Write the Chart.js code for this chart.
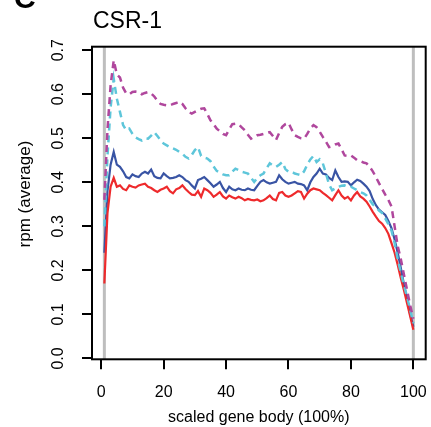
<!DOCTYPE html>
<html>
<head>
<meta charset="utf-8">
<script src="https://cdn.jsdelivr.net/npm/chart.js@4.4.1/dist/chart.umd.min.js"></script>
<style>
  html, body { margin: 0; padding: 0; background: #fff; }
  canvas { display: block; }
</style>
</head>
<body>
<canvas id="profile" width="431" height="427"></canvas>
<script>
// scaled gene body positions (1..100)
var bins = [];
for (var i = 1; i <= 100; i++) bins.push(i);

var redVals = [0.17,0.33,0.39,0.41,0.39,0.393,0.385,0.382,0.393,0.39,
  0.388,0.393,0.395,0.397,0.39,0.387,0.382,0.378,0.383,0.386,
  0.39,0.38,0.375,0.384,0.387,0.393,0.385,0.378,0.372,0.371,
  0.38,0.367,0.386,0.382,0.376,0.367,0.372,0.378,0.368,0.363,
  0.37,0.366,0.363,0.367,0.364,0.359,0.362,0.36,0.359,0.361,
  0.357,0.359,0.364,0.37,0.362,0.359,0.376,0.378,0.37,0.367,
  0.37,0.375,0.38,0.378,0.363,0.374,0.382,0.386,0.384,0.382,
  0.376,0.371,0.365,0.359,0.371,0.382,0.37,0.363,0.367,0.359,
  0.37,0.378,0.368,0.363,0.356,0.345,0.333,0.322,0.312,0.306,
  0.296,0.283,0.262,0.24,0.212,0.182,0.155,0.125,0.095,0.065];

var blueVals = [0.24,0.38,0.44,0.469,0.44,0.435,0.425,0.412,0.409,0.418,
  0.414,0.412,0.42,0.424,0.42,0.429,0.414,0.41,0.409,0.42,
  0.414,0.409,0.41,0.412,0.416,0.412,0.405,0.401,0.393,0.386,
  0.405,0.408,0.412,0.405,0.398,0.39,0.395,0.401,0.387,0.378,
  0.39,0.384,0.382,0.386,0.383,0.382,0.386,0.383,0.382,0.392,
  0.401,0.405,0.4,0.397,0.399,0.401,0.416,0.407,0.401,0.397,
  0.399,0.401,0.397,0.396,0.393,0.382,0.4,0.412,0.42,0.431,
  0.42,0.418,0.41,0.405,0.427,0.412,0.401,0.402,0.401,0.393,
  0.4,0.406,0.403,0.397,0.39,0.38,0.362,0.348,0.338,0.332,
  0.326,0.312,0.296,0.27,0.24,0.205,0.168,0.135,0.1,0.072];

var cyanVals = [0.3,0.46,0.57,0.635,0.59,0.56,0.53,0.518,0.522,0.51,
  0.502,0.498,0.495,0.5,0.499,0.506,0.514,0.505,0.496,0.488,
  0.484,0.48,0.477,0.474,0.469,0.465,0.458,0.454,0.462,0.473,
  0.48,0.46,0.456,0.454,0.448,0.436,0.426,0.422,0.418,0.416,
  0.416,0.424,0.431,0.428,0.424,0.422,0.42,0.41,0.401,0.41,
  0.416,0.42,0.432,0.443,0.438,0.435,0.44,0.446,0.43,0.424,
  0.424,0.42,0.418,0.416,0.425,0.44,0.452,0.46,0.446,0.452,
  0.443,0.42,0.395,0.382,0.386,0.39,0.392,0.393,0.39,0.39,
  0.386,0.382,0.378,0.375,0.37,0.36,0.35,0.344,0.336,0.33,
  0.318,0.305,0.29,0.262,0.225,0.195,0.165,0.14,0.11,0.08];

var magentaVals = [0.36,0.52,0.62,0.677,0.645,0.638,0.615,0.602,0.6,0.605,
  0.606,0.605,0.6,0.603,0.605,0.602,0.595,0.585,0.578,0.576,
  0.575,0.575,0.578,0.58,0.583,0.578,0.568,0.56,0.556,0.56,
  0.564,0.567,0.568,0.555,0.541,0.532,0.522,0.516,0.51,0.507,
  0.52,0.532,0.533,0.532,0.525,0.518,0.508,0.499,0.503,0.507,
  0.508,0.51,0.512,0.514,0.505,0.496,0.512,0.526,0.532,0.535,
  0.52,0.507,0.503,0.5,0.499,0.51,0.522,0.53,0.525,0.515,
  0.503,0.492,0.48,0.482,0.486,0.488,0.475,0.461,0.46,0.461,
  0.456,0.45,0.448,0.445,0.443,0.435,0.425,0.412,0.398,0.385,
  0.372,0.36,0.345,0.3,0.255,0.225,0.19,0.155,0.12,0.09];

var xTicks = [0, 20, 40, 60, 80, 100];
var yTicks = [0, 0.1, 0.2, 0.3, 0.4, 0.5, 0.6, 0.7];
var markers = [1, 100];   // grey lines at TSS / TES

function pts(vals) {
  return vals.map(function (v, k) { return { x: bins[k], y: v }; });
}

Chart.defaults.font.family = "'Liberation Sans', Arial, sans-serif";
Chart.defaults.color = '#000';

var framePlugin = {
  id: 'frame',
  beforeDatasetsDraw: function (chart) {
    var c = chart.ctx, a = chart.chartArea, xs = chart.scales.x;
    c.save();
    c.strokeStyle = '#bebebe';
    c.lineWidth = 3;
    markers.forEach(function (m) {
      var px = xs.getPixelForValue(m);
      c.beginPath();
      c.moveTo(px, a.top);
      c.lineTo(px, a.bottom);
      c.stroke();
    });
    c.restore();
  },
  afterDraw: function (chart) {
    var c = chart.ctx, a = chart.chartArea, ys = chart.scales.y;
    c.save();
    c.strokeStyle = '#000';
    c.lineWidth = 2;
    c.strokeRect(a.left, a.top, a.right - a.left, a.bottom - a.top);

    // y tick labels, rotated like R's default
    c.fillStyle = '#000';
    c.font = "16px 'Liberation Sans', Arial, sans-serif";
    c.textAlign = 'center';
    c.textBaseline = 'middle';
    yTicks.forEach(function (t) {
      c.save();
      c.translate(59, ys.getPixelForValue(t));
      c.rotate(-Math.PI / 2);
      c.fillText(t.toFixed(1), 0, 0);
      c.restore();
    });

    // y axis title, sits a little above the middle in the original
    c.save();
    c.font = "17px 'Liberation Sans', Arial, sans-serif";
    c.translate(25, 194);
    c.rotate(-Math.PI / 2);
    c.fillText('rpm (average)', 0, 0);
    c.restore();

    // panel title
    c.textAlign = 'left';
    c.textBaseline = 'alphabetic';
    c.font = "23px 'Liberation Sans', Arial, sans-serif";
    c.fillText('CSR-1', 93, 28);
    // panel letter, cut off at the top
    c.font = "bold 30px 'Liberation Sans', Arial, sans-serif";
    c.fillText('C', 14, 8);
    c.restore();
  }
};

new Chart(document.getElementById('profile'), {
  type: 'line',
  data: {
    datasets: [
      { data: pts(magentaVals), borderColor: '#b0479d', borderWidth: 2.5, borderDash: [7, 5] },
      { data: pts(cyanVals), borderColor: '#5ec6da', borderWidth: 2.5, borderDash: [7, 5] },
      { data: pts(redVals), borderColor: '#ee2a2c', borderWidth: 2.2 },
      { data: pts(blueVals), borderColor: '#3954a4', borderWidth: 2.2 }
    ]
  },
  options: {
    responsive: false,
    animation: false,
    elements: { point: { radius: 0 }, line: { tension: 0 } },
    layout: { padding: { top: 46.7, right: 5.3, left: 0, bottom: 0 } },
    plugins: { legend: { display: false }, tooltip: { enabled: false } },
    scales: {
      x: {
        type: 'linear',
        min: -2.96,
        max: 103.96,
        afterBuildTicks: function (s) { s.ticks = xTicks.map(function (v) { return { value: v }; }); },
        afterFit: function (s) { s.height = 67.7; s.paddingLeft = 0; s.paddingRight = 0; },
        ticks: { font: { size: 16 }, padding: 14, maxRotation: 0, autoSkip: false, color: '#000' },
        grid: { drawOnChartArea: false, drawTicks: true, tickLength: 10, color: '#000', lineWidth: 2 },
        border: { display: false },
        title: { display: true, text: 'scaled gene body (100%)', font: { size: 16 }, padding: { top: 0, bottom: 0 }, color: '#000' }
      },
      y: {
        type: 'linear',
        min: -0.002,
        max: 0.708,
        afterBuildTicks: function (s) { s.ticks = yTicks.map(function (v) { return { value: v }; }); },
        afterFit: function (s) { s.width = 92; s.paddingTop = 0; s.paddingBottom = 0; },
        ticks: { display: false },
        grid: { drawOnChartArea: false, drawTicks: true, tickLength: 10, color: '#000', lineWidth: 2 },
        border: { display: false }
      }
    }
  },
  plugins: [framePlugin]
});
</script>
</body>
</html>
